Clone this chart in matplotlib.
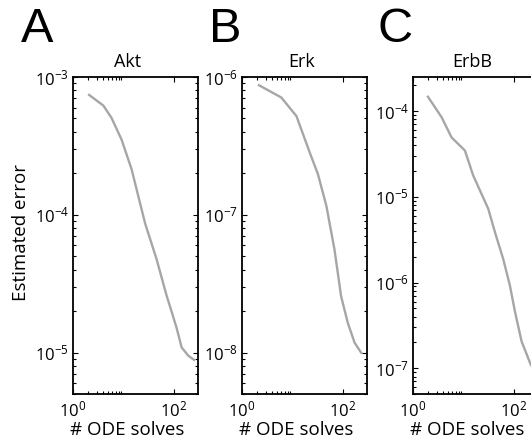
import matplotlib
matplotlib.use('Agg')
import matplotlib.pyplot as plt
from matplotlib.ticker import LogLocator, FixedLocator, LogFormatterSciNotation, NullFormatter

# Data (number of ODE solves vs estimated error)
akt_solves = [2.0, 4.0, 5.8, 9.2, 14.5, 21, 27, 45, 72, 83, 113, 142, 192, 261]
akt_err = [7.5e-4, 6.2e-4, 5.05e-4, 3.5e-4, 2.14e-4, 1.24e-4, 8.6e-5,
           4.8e-5, 2.57e-5, 2.18e-5, 1.51e-5, 1.09e-5, 9.5e-6, 8.75e-6]

erk_solves = [2.07, 6.0, 12.0, 22, 32, 47, 68, 92, 125, 170, 237]
erk_err = [8.8e-7, 7.1e-7, 5.2e-7, 2.83e-7, 1.97e-7, 1.16e-7, 5.6e-8,
           2.56e-8, 1.64e-8, 1.18e-8, 9.8e-9]

erbb_solves = [1.92, 3.7, 5.8, 10.7, 15.6, 31, 42, 61, 83, 105, 142, 217, 260]
erbb_err = [1.51e-4, 8.45e-5, 4.94e-5, 3.46e-5, 1.77e-5, 7.24e-6, 3.88e-6,
            1.90e-6, 9.3e-7, 4.56e-7, 2.05e-7, 1.09e-7, 9.5e-8]

titles = ['Akt', 'Erk', 'ErbB']
letters = ['A', 'B', 'C']
ylims = [(5e-6, 1e-3), (5e-9, 1e-6), (5e-8, 2.5e-4)]
xlim = (1, 300)

plt.rcParams['font.family'] = ['Open Sans', 'DejaVu Sans']
plt.rcParams['mathtext.fontset'] = 'custom'
plt.rcParams['mathtext.rm'] = 'Open Sans'

W, H = 531, 446
fig = plt.figure(figsize=(W / 100, H / 100), dpi=100)

lefts = [73, 242, 413]
ax_w = 125
ax_top, ax_bot = 77, 394
letter_x = [21, 209, 378]
title_x = [0.44, 0.48, 0.47]

series = [(akt_solves, akt_err), (erk_solves, erk_err), (erbb_solves, erbb_err)]

for i, (xs, ys) in enumerate(series):
    ax = fig.add_axes([lefts[i] / W, 1 - ax_bot / H, ax_w / W, (ax_bot - ax_top) / H])
    ax.plot(xs, ys, color='#a6a6a6', lw=1.7, solid_capstyle='butt')
    ax.set_xscale('log')
    ax.set_yscale('log')
    ax.set_xlim(*xlim)
    ax.set_ylim(*ylims[i])

    ax.xaxis.set_major_locator(FixedLocator([1, 100]))
    ax.xaxis.set_minor_locator(FixedLocator([2, 3, 4, 5, 6, 7, 8, 9]))
    ax.xaxis.set_major_formatter(LogFormatterSciNotation())
    ax.xaxis.set_minor_formatter(NullFormatter())
    ax.yaxis.set_major_locator(LogLocator(base=10))
    ax.yaxis.set_minor_locator(LogLocator(base=10, subs=range(2, 10)))
    ax.yaxis.set_major_formatter(LogFormatterSciNotation())
    ax.yaxis.set_minor_formatter(NullFormatter())

    for sp in ax.spines.values():
        sp.set_linewidth(1.3)
    ax.tick_params(which='both', direction='in', top=True, right=True,
                   width=0.8, labelsize=12)
    ax.tick_params(which='major', length=3.5)
    ax.tick_params(which='minor', length=2.2)
    ax.tick_params(axis='x', pad=5)
    ax.tick_params(axis='y', pad=3)

    ax.set_title(titles[i], fontsize=13, x=title_x[i], pad=7)
    ax.set_xlabel('# ODE solves', fontsize=13.5)
    ax.xaxis.set_label_coords(0.43, -0.085)
    if i == 0:
        ax.set_ylabel('Estimated error', fontsize=13.5)
        ax.yaxis.set_label_coords(-0.34, 0.51)

    fig.text(letter_x[i] / W, 1 - 42 / H, letters[i], fontsize=35,
             family='Liberation Sans', ha='left', va='baseline')

fig.savefig('out.png', dpi=100)
